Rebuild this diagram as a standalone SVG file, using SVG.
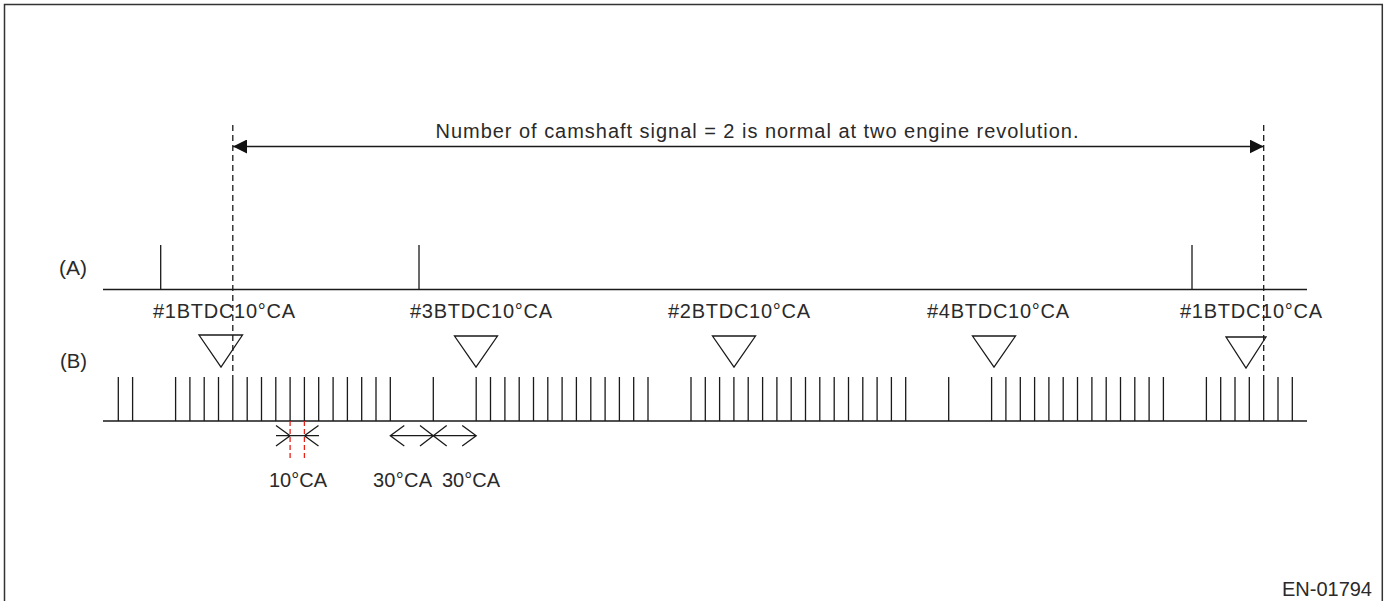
<svg xmlns="http://www.w3.org/2000/svg" width="1385" height="601" viewBox="0 0 1385 601">
<style>
.ln{stroke:#1a1a1a;stroke-width:1.3;fill:none}
.dash{stroke:#1a1a1a;stroke-width:1.3;fill:none;stroke-dasharray:6 4}
.red{stroke:#e8201a;stroke-width:1.3;fill:none;stroke-dasharray:5 3}
.tri{stroke:#1a1a1a;stroke-width:1.3;fill:#fff}
.t{font-family:"Liberation Sans",Arial,sans-serif;fill:#2a2a2a;font-size:20px}
</style>
<defs>
<marker id="ah" viewBox="0 0 14 14" refX="14" refY="7" markerWidth="14" markerHeight="14" markerUnits="userSpaceOnUse" orient="auto-start-reverse">
<path d="M0,0 L14,7 L0,14 Z" fill="#111"/>
</marker>
</defs>
<rect width="1385" height="601" fill="#fff"/>
<path d="M4.5,601 V4.5 H1382.3 V601" stroke="#333" stroke-width="1.5" fill="none"/>

<g id="row-A">
<text class="t" x="59" y="275" textLength="28" lengthAdjust="spacingAndGlyphs">(A)</text>
<path class="ln" d="M103,289.5 H1307 M160.7,245 V289.5 M419,245 V289.5 M1192,245 V289.5"/>
</g>

<g id="row-B">
<text class="t" x="60" y="368" textLength="27" lengthAdjust="spacingAndGlyphs">(B)</text>
<path class="ln" d="M103,421 H1307
M118.3,377V421 M132.6,377V421
M175.6,377V421 M189.9,377V421 M204.2,377V421 M218.5,377V421 M232.8,377V421 M247.2,377V421 M261.5,377V421 M275.8,377V421 M290.1,377V421 M304.4,377V421 M318.7,377V421 M333.1,377V421 M347.4,377V421 M361.7,377V421 M376,377V421 M390.3,377V421
M433.3,377V421
M476.2,377V421 M490.5,377V421 M504.9,377V421 M519.2,377V421 M533.5,377V421 M547.8,377V421 M562.1,377V421 M576.4,377V421 M590.8,377V421 M605.1,377V421 M619.4,377V421 M633.7,377V421 M648,377V421
M691,377V421 M705.3,377V421 M719.6,377V421 M733.9,377V421 M748.2,377V421 M762.6,377V421 M776.9,377V421 M791.2,377V421 M805.5,377V421 M819.8,377V421 M834.2,377V421 M848.5,377V421 M862.8,377V421 M877.1,377V421 M891.4,377V421 M905.7,377V421
M948.7,377V421
M991.6,377V421 M1005.9,377V421 M1020.3,377V421 M1034.6,377V421 M1048.9,377V421 M1063.2,377V421 M1077.5,377V421 M1091.9,377V421 M1106.2,377V421 M1120.5,377V421 M1134.8,377V421 M1149.1,377V421 M1163.4,377V421
M1206.4,377V421 M1220.7,377V421 M1235,377V421 M1249.3,377V421 M1263.7,377V421 M1278,377V421 M1292.3,377V421"/>
</g>

<g id="tdc1a">
<text class="t" x="224" y="318" text-anchor="middle" textLength="142" lengthAdjust="spacing">#1BTDC10°CA</text>
<path class="tri" d="M199,335 H242.5 L221,367 Z"/>
</g>
<g id="tdc3">
<text class="t" x="481" y="318" text-anchor="middle" textLength="142" lengthAdjust="spacing">#3BTDC10°CA</text>
<path class="tri" d="M454.5,336 H497.5 L476,367 Z"/>
</g>
<g id="tdc2">
<text class="t" x="739" y="318" text-anchor="middle" textLength="142" lengthAdjust="spacing">#2BTDC10°CA</text>
<path class="tri" d="M712.5,336 H755.5 L734,367 Z"/>
</g>
<g id="tdc4">
<text class="t" x="998" y="318" text-anchor="middle" textLength="142" lengthAdjust="spacing">#4BTDC10°CA</text>
<path class="tri" d="M972.5,336 H1015.5 L994,367 Z"/>
</g>
<g id="tdc1b">
<text class="t" x="1251" y="318" text-anchor="middle" textLength="142" lengthAdjust="spacing">#1BTDC10°CA</text>
<path class="tri" d="M1226,337 H1266 L1246,368 Z"/>
</g>

<g id="connectors">
<path class="dash" d="M232.8,125 V377 M1263.7,125 V377"/>
<path class="ln" d="M233,146.5 H1263.7" marker-start="url(#ah)" marker-end="url(#ah)"/>
<text class="t" x="757" y="138" text-anchor="middle" font-size="19" textLength="643" lengthAdjust="spacing">Number of camshaft signal = 2 is normal at two engine revolution.</text>

<path class="red" d="M290.1,421 V461 M304.4,421 V461"/>
<path class="ln" d="M276,435.7 H319 M276,425.5 L290.1,435.7 L276,446 M318.5,425.5 L304.4,435.7 L318.5,446"/>
<text class="t" x="298" y="487" text-anchor="middle" textLength="58" lengthAdjust="spacing">10°CA</text>

<path class="ln" d="M390.3,435.7 H476.2 M404.3,425.5 L390.3,435.7 L404.3,446 M420,425.5 L433.3,435.7 L420,446 M446.7,425.5 L433.3,435.7 L446.7,446 M462.2,425.5 L476.2,435.7 L462.2,446"/>
<text class="t" x="402.5" y="487" text-anchor="middle" textLength="59" lengthAdjust="spacing">30°CA</text>
<text class="t" x="471" y="487" text-anchor="middle" textLength="58" lengthAdjust="spacing">30°CA</text>
</g>

<text class="t" x="1372" y="596" text-anchor="end">EN-01794</text>
</svg>
